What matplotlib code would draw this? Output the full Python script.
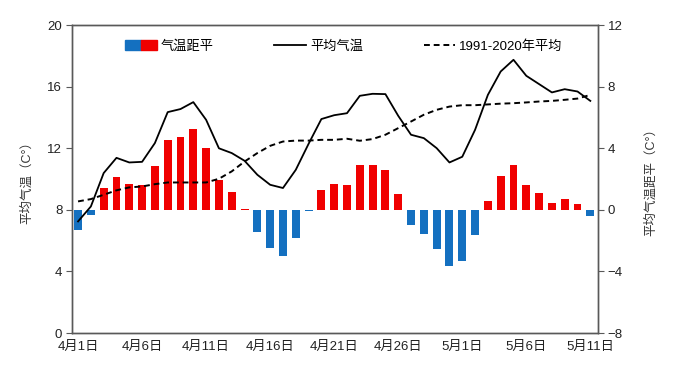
import matplotlib.pyplot as plt
from matplotlib.patches import Patch
from matplotlib.legend_handler import HandlerTuple
import numpy as np

plt.rcParams["font.family"] = ["Liberation Sans", "Noto Sans CJK SC", "DejaVu Sans"]

# daily mean temperature (left axis), 4/1 - 5/11
temp = [7.25, 8.22, 10.39, 11.38, 11.08, 11.12, 12.34, 14.35, 14.55, 15.0,
        13.85, 12.0, 11.69, 11.19, 10.28, 9.63, 9.42, 10.6, 12.29, 13.9,
        14.15, 14.28, 15.41, 15.54, 15.52, 14.11, 12.88, 12.66, 12.01, 11.08,
        11.45, 13.2, 15.47, 16.99, 17.75, 16.71, 16.17, 15.63, 15.84, 15.69,
        15.08]
# 1991-2020 normal (left axis)
normal = [8.55, 8.7, 8.98, 9.27, 9.46, 9.52, 9.67, 9.78, 9.78, 9.78,
          9.78, 10.02, 10.5, 11.14, 11.69, 12.16, 12.44, 12.5, 12.5, 12.55,
          12.55, 12.62, 12.49, 12.6, 12.88, 13.31, 13.74, 14.18, 14.5, 14.71,
          14.8, 14.8, 14.85, 14.9, 14.93, 14.98, 15.04, 15.08, 15.15, 15.23,
          15.47]
# anomaly (right axis)
anomaly = [-1.3, -0.32, 1.43, 2.16, 1.71, 1.6, 2.86, 4.55, 4.76, 5.26,
           4.0, 1.92, 1.17, 0.05, -1.43, -2.47, -2.99, -1.8, -0.05, 1.32,
           1.66, 1.6, 2.94, 2.9, 2.62, 1.0, -0.98, -1.54, -2.53, -3.65,
           -3.34, -1.66, 0.55, 2.18, 2.9, 1.64, 1.12, 0.43, 0.71, 0.41,
           -0.43]
tick_pos = [0, 5, 10, 15, 20, 25, 30, 35, 40]
tick_labels = ["4月1日", "4月6日", "4月11日", "4月16日", "4月21日",
               "4月26日", "5月1日", "5月6日", "5月11日"]

RED = "#f00000"
BLUE = "#1470c0"
SPINE = "#595959"

x = np.arange(len(temp))
colors = [RED if a >= 0 else BLUE for a in anomaly]

fig = plt.figure(figsize=(6.88, 3.87), dpi=100)
ax = fig.add_axes([0.1047, 0.1395, 0.7645, 0.7955])
ax2 = ax.twinx()

ax2.bar(x, anomaly, width=0.62, color=colors)
ax.plot(x, temp, color="black", lw=1.3)
ax.plot(x, normal, color="black", lw=1.4, ls=(0, (3, 2)))

# lines above the bars
ax.set_zorder(ax2.get_zorder() + 1)
ax.patch.set_visible(False)

ax.set_xlim(-0.47, 40.6)
ax.set_ylim(0, 20)
ax.set_yticks([0, 4, 8, 12, 16, 20])
ax2.set_ylim(-8, 12)
ax2.set_yticks([-8, -4, 0, 4, 8, 12])
ax.set_xticks(tick_pos)
ax.set_xticklabels(tick_labels)

for a in (ax, ax2):
    for s in a.spines.values():
        s.set_color(SPINE)
        s.set_linewidth(1.0)
    a.tick_params(axis="y", length=4, color=SPINE, labelsize=9.5, labelcolor="#222222", pad=3)
ax.tick_params(axis="x", length=0, labelsize=9.5, labelcolor="#222222", pad=6)

ax.set_ylabel("平均气温（C°）", fontsize=9, color="#333333", labelpad=10)
ax2.set_ylabel("平均气温距平（C°）", fontsize=9, color="#333333", rotation=90, labelpad=16)

bar_handle = (Patch(color=BLUE), Patch(color=RED))
line_handle = plt.Line2D([], [], color="black", lw=1.3)
dash_handle = plt.Line2D([], [], color="black", lw=1.4, ls=(0, (3, 2)))
ax.legend([bar_handle, line_handle, dash_handle],
          ["气温距平", "平均气温", "1991-2020年平均"],
          handler_map={tuple: HandlerTuple(ndivide=None, pad=0)},
          loc="upper center", bbox_to_anchor=(0.517, 0.99), ncol=3,
          frameon=False, fontsize=9.5, handlelength=2.4, handletextpad=0.3,
          columnspacing=4.6)

fig.savefig("out.png", dpi=100)
